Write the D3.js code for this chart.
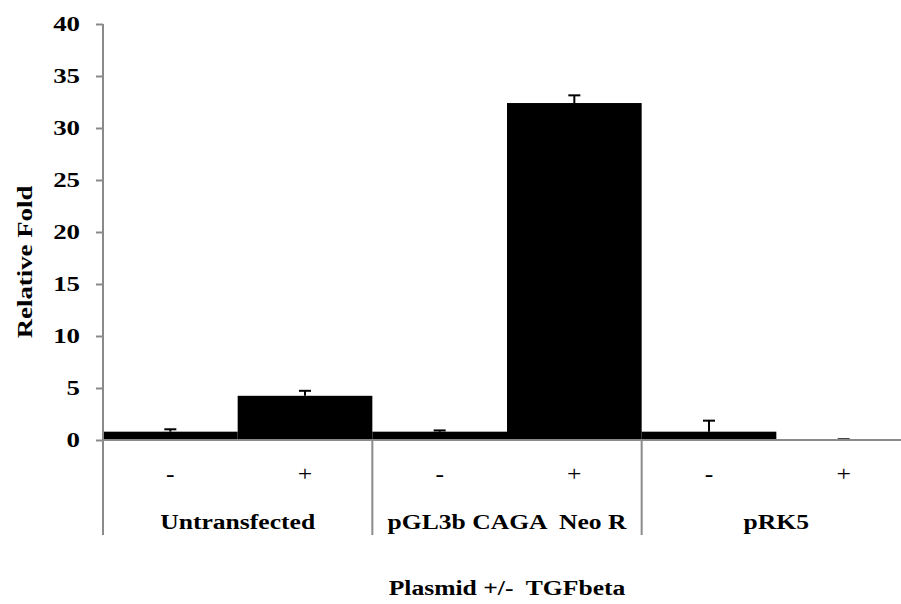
<!DOCTYPE html>
<html>
<head>
<meta charset="utf-8">
<script src="https://cdn.jsdelivr.net/npm/d3@7"></script>
</head>
<body style="margin:0; background:#fff">
<script>
// values
const groups = ["Untransfected", "pGL3b CAGA  Neo R", "pRK5"];
const treatments = ["-", "+"];
const foldValues = [0.8, 4.25, 0.8, 32.4, 0.8, 0.02];
const foldErrors = [0.23, 0.48, 0.12, 0.74, 1.06, 0.05];
const yTicks = [0, 5, 10, 15, 20, 25, 30, 35, 40];

const width = 901, height = 604;
const marginLeft = 103, marginTop = 24, plotBottom = 440;
const plotRight = 911; // the plot runs a little past the picture's right edge
const labelBottom = 535;
const stretch = 1.28; // text in the reference is wide
const axisGrey = "#8a8a8a";
const serif = "Liberation Serif";

const data = [];
groups.forEach((g, gi) => treatments.forEach((t, ti) => {
    const i = gi * treatments.length + ti;
    data.push({ key: g + "|" + t, group: g, treat: t, value: foldValues[i], err: foldErrors[i] });
}));

const x = d3.scaleBand()
    .domain(data.map(d => d.key))
    .range([marginLeft, plotRight])
    .padding(0);

const xGroup = d3.scaleBand()
    .domain(groups)
    .range([marginLeft, plotRight])
    .padding(0);

const y = d3.scaleLinear()
    .domain([0, 40])
    .range([plotBottom, marginTop]);

const svg = d3.select("body").append("svg")
    .attr("width", width)
    .attr("height", height)
    .attr("viewBox", [0, 0, width, height])
    .attr("font-family", serif);

svg.append("rect").attr("width", width).attr("height", height).attr("fill", "#fff");

// bars
svg.append("g")
    .attr("fill", "#000")
    .selectAll("rect")
    .data(data)
    .join("rect")
    .attr("x", d => x(d.key))
    .attr("width", x.bandwidth())
    .attr("y", d => y(d.value))
    .attr("height", d => y(0) - y(d.value));

// error bars, upper side only
const errG = svg.append("g").attr("stroke", "#000").attr("stroke-width", 2);
errG.selectAll("line.stem")
    .data(data)
    .join("line")
    .attr("class", "stem")
    .attr("x1", d => x(d.key) + x.bandwidth() / 2)
    .attr("x2", d => x(d.key) + x.bandwidth() / 2)
    .attr("y1", d => y(d.value))
    .attr("y2", d => y(d.value + d.err));
errG.selectAll("line.cap")
    .data(data)
    .join("line")
    .attr("class", "cap")
    .attr("x1", d => x(d.key) + x.bandwidth() / 2 - 6)
    .attr("x2", d => x(d.key) + x.bandwidth() / 2 + 6)
    .attr("y1", d => y(d.value + d.err))
    .attr("y2", d => y(d.value + d.err));

// y axis
const yAxis = d3.axisLeft(y).tickValues(yTicks).tickSize(7).tickSizeOuter(0);
const yAxisG = svg.append("g")
    .attr("transform", `translate(${marginLeft},0)`)
    .call(yAxis);
yAxisG.select(".domain").remove();
yAxisG.selectAll(".tick line").attr("stroke", axisGrey).attr("stroke-width", 2);
yAxisG.selectAll(".tick text")
    .attr("x", null)
    .attr("transform", `translate(-23,0) scale(${stretch},1)`)
    .attr("font-family", serif)
    .attr("font-size", "21px")
    .attr("font-weight", "bold")
    .attr("fill", "#000");

// axis lines: left one runs down through the label rows
svg.append("line")
    .attr("x1", marginLeft).attr("x2", marginLeft)
    .attr("y1", y(40)).attr("y2", labelBottom)
    .attr("stroke", axisGrey).attr("stroke-width", 2);
svg.append("line")
    .attr("x1", marginLeft).attr("x2", plotRight)
    .attr("y1", y(0)).attr("y2", y(0))
    .attr("stroke", axisGrey).attr("stroke-width", 2);

// group separators
svg.append("g")
    .selectAll("line")
    .data(groups.slice(1))
    .join("line")
    .attr("x1", d => xGroup(d)).attr("x2", d => xGroup(d))
    .attr("y1", y(0)).attr("y2", labelBottom)
    .attr("stroke", axisGrey).attr("stroke-width", 2);

// treatment labels (- / +)
svg.append("g")
    .selectAll("text")
    .data(data)
    .join("text")
    .attr("transform", d => `translate(${x(d.key) + x.bandwidth() / 2},481) scale(${stretch},1)`)
    .attr("text-anchor", "middle")
    .attr("font-family", serif)
    .attr("font-size", "20px")
    .attr("font-weight", d => d.treat === "-" ? "bold" : "normal")
    .text(d => d.treat);

// group labels
svg.append("g")
    .selectAll("text")
    .data(groups)
    .join("text")
    .attr("transform", d => `translate(${xGroup(d) + xGroup.bandwidth() / 2},529) scale(${stretch},1)`)
    .attr("text-anchor", "middle")
    .attr("font-family", serif)
    .attr("font-size", "20px")
    .attr("font-weight", "bold")
    .style("white-space", "pre")
    .text(d => d);

// axis titles
svg.append("text")
    .attr("transform", `translate(${(marginLeft + plotRight) / 2},595) scale(${stretch},1)`)
    .attr("text-anchor", "middle")
    .attr("font-family", serif)
    .attr("font-size", "20px")
    .attr("font-weight", "bold")
    .style("white-space", "pre")
    .text("Plasmid +/-  TGFbeta");

svg.append("text")
    .attr("transform", `translate(32,262) rotate(-90) scale(1.22,1)`)
    .attr("text-anchor", "middle")
    .attr("font-family", serif)
    .attr("font-size", "22px")
    .attr("font-weight", "bold")
    .text("Relative Fold");
</script>
</body>
</html>
